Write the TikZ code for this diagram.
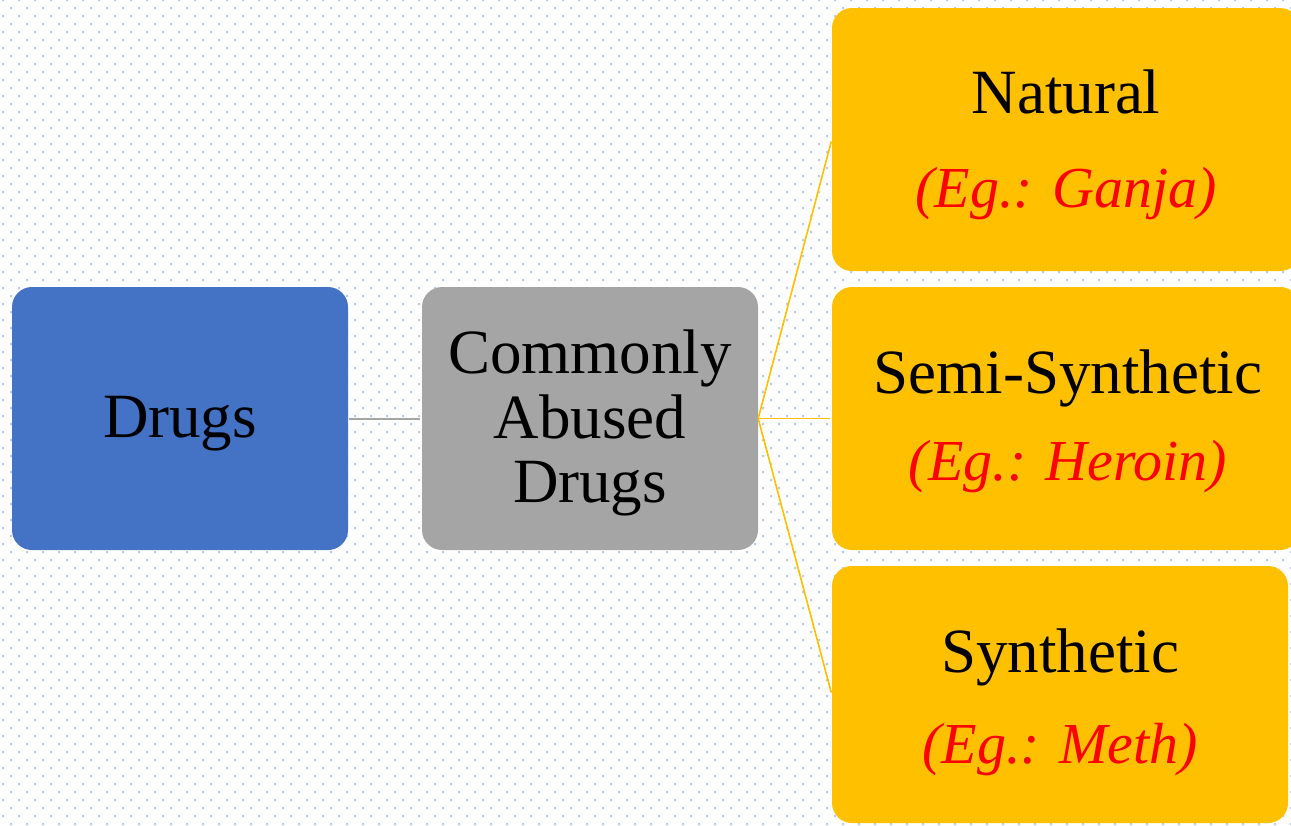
\documentclass[tikz,border=0pt]{standalone}
\usepackage{fontspec}
\setmainfont{Liberation Serif}
\definecolor{dotc}{RGB}{184,202,233}
\definecolor{blueb}{RGB}{68,114,196}
\definecolor{greyb}{RGB}{165,165,165}
\definecolor{orangeb}{RGB}{255,192,0}
\definecolor{redt}{RGB}{255,0,0}
\tikzset{
  box/.style={rectangle, rounded corners=20pt, draw=none, inner sep=0pt},
  maintext/.style={anchor=base, inner sep=0pt, font=\fontsize{63}{64}\selectfont, text=black},
  egtext/.style={anchor=base, inner sep=0pt, font=\fontsize{58}{60}\selectfont\itshape, text=redt},
  greyline/.style={draw=greyb, line width=2pt},
  orangeline/.style={draw=orangeb, line width=1.6pt},
}
\begin{document}
\begin{tikzpicture}[x=1pt,y=-1pt]
\useasboundingbox (0,0) rectangle (1291,825);
\clip (0,0) rectangle (1291,825);
\fill[white] (0,0) rectangle (1291,825);
% dotted background
\foreach \j in {0,...,103} {
  \pgfmathsetmacro{\xo}{2+8*mod(\j,2)}
  \pgfmathsetmacro{\yo}{-1+8*\j}
  \fill[dotc] \foreach \i in {0,...,81} {
    (\xo+16*\i,\yo) rectangle ++(2,2)
  };
}
% boxes
\node[box, fill=blueb, minimum width=336pt, minimum height=263pt] (drugs) at (180,418.5) {};
\node[box, fill=greyb, minimum width=336pt, minimum height=263pt] (cad) at (590,418.5) {};
\node[box, fill=orangeb, minimum width=468pt, minimum height=263pt] (nat) at (1066,139.5) {};
\node[box, fill=orangeb, minimum width=468pt, minimum height=263pt] (semi) at (1066,418.5) {};
\node[box, fill=orangeb, minimum width=456pt, minimum height=257pt] (syn) at (1060,694.5) {};
% connectors
\draw[greyline, shorten >=2pt, shorten <=1pt] (drugs.east) -- (cad.west);
\draw[orangeline, shorten >=2pt] (cad.east) -- (nat.west);
\draw[orangeline, shorten >=2pt] (cad.east) -- (semi.west);
\draw[orangeline, shorten >=2pt] (cad.east) -- (syn.west);
% texts
\node[maintext] (drugs-t) at (180,437) {Drugs};
\node[maintext] (cad-t1) at (590,373) {Commonly};
\node[maintext] (cad-t2) at (590,438) {Abused};
\node[maintext] (cad-t3) at (590,502) {Drugs};
\node[maintext] (nat-t) at (1066,113) {Natural};
\node[egtext] (nat-e) at (1066,207) {(Eg.: Ganja)};
\node[maintext] (semi-t) at (1068,393) {Semi-Synthetic};
\node[egtext] (semi-e) at (1068,480) {(Eg.: Heroin)};
\node[maintext] (syn-t) at (1060,672) {Synthetic};
\node[egtext] (syn-e) at (1060,763) {(Eg.: Meth)};
\end{tikzpicture}
\end{document}
